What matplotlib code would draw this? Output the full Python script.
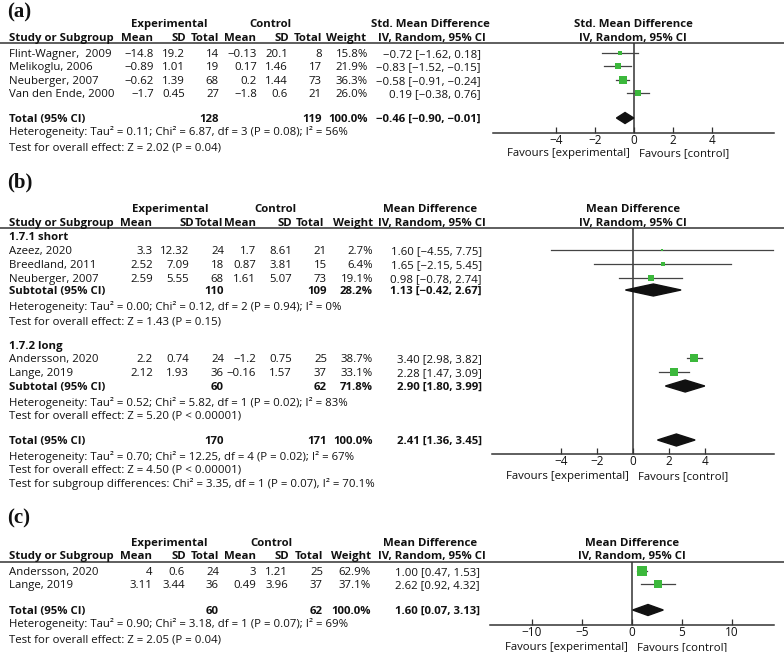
import matplotlib
matplotlib.use("Agg")
import matplotlib.pyplot as plt
from matplotlib.patches import Polygon
import math

W, H = 784, 652
plt.rcParams['font.family'] = ['Open Sans', 'DejaVu Sans']
FS = 8.2
GREEN = "#3cb83c"
LINE = "#333333"

# ---------------- data: panel (a) ----------------
a_studies = ["Flint-Wagner,  2009", "Melikoglu, 2006", "Neuberger, 2007", "Van den Ende, 2000"]
a_exp_mean = [-14.8, -0.89, -0.62, -1.7]
a_exp_sd = [19.2, 1.01, 1.39, 0.45]
a_exp_n = [14, 19, 68, 27]
a_ctl_mean = [-0.13, 0.17, 0.2, -1.8]
a_ctl_sd = [20.1, 1.46, 1.44, 0.6]
a_ctl_n = [8, 17, 73, 21]
a_weight = [15.8, 21.9, 36.3, 26.0]
a_est = [-0.72, -0.83, -0.58, 0.19]
a_lo = [-1.62, -1.52, -0.91, -0.38]
a_hi = [0.18, -0.15, -0.24, 0.76]
a_total = [128, 119, 100.0, -0.46, -0.90, -0.01]
a_notes = ["Heterogeneity: Tau² = 0.11; Chi² = 6.87, df = 3 (P = 0.08); I² = 56%",
           "Test for overall effect: Z = 2.02 (P = 0.04)"]
a_ticks = [-4, -2, 0, 2, 4]

# ---------------- data: panel (b) ----------------
b1_name = "1.7.1 short"
b1_studies = ["Azeez, 2020", "Breedland, 2011", "Neuberger, 2007"]
b1_exp_mean = [3.3, 2.52, 2.59]
b1_exp_sd = [12.32, 7.09, 5.55]
b1_exp_n = [24, 18, 68]
b1_ctl_mean = [1.7, 0.87, 1.61]
b1_ctl_sd = [8.61, 3.81, 5.07]
b1_ctl_n = [21, 15, 73]
b1_weight = [2.7, 6.4, 19.1]
b1_est = [1.60, 1.65, 0.98]
b1_lo = [-4.55, -2.15, -0.78]
b1_hi = [7.75, 5.45, 2.74]
b1_sub = [110, 109, 28.2, 1.13, -0.42, 2.67]
b1_notes = ["Heterogeneity: Tau² = 0.00; Chi² = 0.12, df = 2 (P = 0.94); I² = 0%",
            "Test for overall effect: Z = 1.43 (P = 0.15)"]

b2_name = "1.7.2 long"
b2_studies = ["Andersson, 2020", "Lange, 2019"]
b2_exp_mean = [2.2, 2.12]
b2_exp_sd = [0.74, 1.93]
b2_exp_n = [24, 36]
b2_ctl_mean = [-1.2, -0.16]
b2_ctl_sd = [0.75, 1.57]
b2_ctl_n = [25, 37]
b2_weight = [38.7, 33.1]
b2_est = [3.40, 2.28]
b2_lo = [2.98, 1.47]
b2_hi = [3.82, 3.09]
b2_sub = [60, 62, 71.8, 2.90, 1.80, 3.99]
b2_notes = ["Heterogeneity: Tau² = 0.52; Chi² = 5.82, df = 1 (P = 0.02); I² = 83%",
            "Test for overall effect: Z = 5.20 (P < 0.00001)"]
b_total = [170, 171, 100.0, 2.41, 1.36, 3.45]
b_notes = ["Heterogeneity: Tau² = 0.70; Chi² = 12.25, df = 4 (P = 0.02); I² = 67%",
           "Test for overall effect: Z = 4.50 (P < 0.00001)",
           "Test for subgroup differences: Chi² = 3.35, df = 1 (P = 0.07), I² = 70.1%"]
b_ticks = [-4, -2, 0, 2, 4]

# ---------------- data: panel (c) ----------------
c_studies = ["Andersson, 2020", "Lange, 2019"]
c_exp_mean = [4, 3.11]
c_exp_sd = [0.6, 3.44]
c_exp_n = [24, 36]
c_ctl_mean = [3, 0.49]
c_ctl_sd = [1.21, 3.96]
c_ctl_n = [25, 37]
c_weight = [62.9, 37.1]
c_est = [1.00, 2.62]
c_lo = [0.47, 0.92]
c_hi = [1.53, 4.32]
c_total = [60, 62, 100.0, 1.60, 0.07, 3.13]
c_notes = ["Heterogeneity: Tau² = 0.90; Chi² = 3.18, df = 1 (P = 0.07); I² = 69%",
           "Test for overall effect: Z = 2.05 (P = 0.04)"]
c_ticks = [-10, -5, 0, 5, 10]

col_labels = ["Mean", "SD", "Total", "Mean", "SD", "Total", "Weight"]

# ---------------- figure ----------------
fig = plt.figure(figsize=(W / 100, H / 100), dpi=100)
ax0 = fig.add_axes([0, 0, 1, 1])
ax0.set_xlim(0, W)
ax0.set_ylim(H, 0)
ax0.axis('off')

BASE = 4.0  # baseline offset below the visual row centre (px)


def T(x, y, s, ha='left', bold=False, size=FS, **kw):
    ax0.text(x, y + BASE, s, ha=ha, va='baseline', fontsize=size,
             fontweight='bold' if bold else 'normal', color='#111111', **kw)


def fmt(v):
    return f"{v:g}".replace("-", "\u2212")


def fmt2(v):
    return f"{v:.2f}".replace("-", "\u2212")


def ci(e, lo, hi):
    return f"{fmt2(e)} [{fmt2(lo)}, {fmt2(hi)}]"


def header(label, ylab, y1, y2, yline, hdr_x, exp_c, ctl_c, method, fc):
    ax0.text(7, ylab, label, ha='left', va='center', fontsize=15, fontweight='bold',
             family='Liberation Serif', color='#111111')
    T(exp_c, y1, "Experimental", 'center', True)
    T(ctl_c, y1, "Control", 'center', True)
    T(9, y2, "Study or Subgroup", bold=True)
    for lab, x in zip(col_labels, hdr_x):
        T(x, y2, lab, 'right', True)
    T(430, y1, method, 'center', True)
    T(432, y2, "IV, Random, 95% CI", 'center', True)
    T(fc, y1, method, 'center', True)
    T(fc, y2, "IV, Random, 95% CI", 'center', True)
    ax0.plot([0, W], [yline, yline], color=LINE, lw=1.1)


def study_rows(ys, cols, names, em, es, en, cm, cs, cn, w, e, lo, hi):
    for i, y in enumerate(ys):
        T(9, y, names[i])
        vals = [fmt(em[i]), fmt(es[i]), str(en[i]), fmt(cm[i]), fmt(cs[i]), str(cn[i]),
                f"{w[i]:.1f}%", ci(e[i], lo[i], hi[i])]
        for v, x in zip(vals, cols):
            T(x, y, v, 'right')


def total_row(y, cols, label, tot):
    T(9, y, label, bold=True)
    T(cols[2], y, str(tot[0]), 'right', True)
    T(cols[5], y, str(tot[1]), 'right', True)
    T(cols[6], y, f"{tot[2]:.1f}%", 'right', True)
    T(cols[7], y, ci(tot[3], tot[4], tot[5]), 'right', True)


def forest(x0, x1, xzero, unit, ytop, ybot, ticks, yfav):
    vmin = (x0 - xzero) / unit
    vmax = (x1 - xzero) / unit
    ax = fig.add_axes([x0 / W, 1 - ybot / H, (x1 - x0) / W, (ybot - ytop) / H])
    ax.set_xlim(vmin, vmax)
    ax.set_ylim(ybot, ytop)
    ax.patch.set_alpha(0)
    for s in ['top', 'left', 'right']:
        ax.spines[s].set_visible(False)
    ax.spines['bottom'].set_color(LINE)
    ax.spines['bottom'].set_linewidth(1.1)
    ax.set_yticks([])
    ax.set_xticks(ticks)
    ax.tick_params(axis='x', direction='in', length=4, width=0.9, colors=LINE,
                   labelsize=FS + 0.3, labelcolor='#111111', pad=0.5)
    ax.axvline(0, color=LINE, lw=1.1)
    T(xzero - 4, yfav, "Favours [experimental]", 'right')
    T(xzero + 5, yfav, "Favours [control]", 'left')
    return ax


def squares(ax, ys, w, e, lo, hi):
    for i, y in enumerate(ys):
        ax.plot([lo[i], hi[i]], [y, y], color='#444444', lw=0.9, clip_on=False, zorder=2)
        ax.plot(e[i], y, marker='s', ms=0.9 * math.sqrt(w[i]), color=GREEN, mec=GREEN,
                mew=0, clip_on=False, zorder=3)


def diamond(ax, y, tot, h=5.5):
    e, lo, hi = tot[3], tot[4], tot[5]
    ax.add_patch(Polygon([(lo, y), (e, y - h), (hi, y), (e, y + h)], closed=True,
                         color='#111111', clip_on=False, zorder=3))


# ---------------- panel (a) ----------------
a_cols = [154, 185, 219, 257, 288, 322, 368, 481]
a_hdr = [153, 186, 219, 256, 289, 322, 366]
header("(a)", 12, 23, 37, 43, a_hdr, 169, 270, "Std. Mean Difference", 633)
a_y = [53, 66, 80, 93]
study_rows(a_y, a_cols, a_studies, a_exp_mean, a_exp_sd, a_exp_n, a_ctl_mean, a_ctl_sd,
           a_ctl_n, a_weight, a_est, a_lo, a_hi)
total_row(118, a_cols, "Total (95% CI)", a_total)
T(9, 131, a_notes[0])
T(9, 146, a_notes[1])
axa = forest(493, 774, 634, 19.5, 43, 133, a_ticks, 152)
squares(axa, a_y, a_weight, a_est, a_lo, a_hi)
diamond(axa, 118, a_total)

# ---------------- panel (b) ----------------
b_cols = [153, 189, 224, 256, 292, 327, 373, 482]
b_hdr = [152, 194, 223, 256, 292, 324, 373]
header("(b)", 182, 208, 222, 228, b_hdr, 170, 275, "Mean Difference", 633)
T(9, 236, b1_name, bold=True)
b1_y = [250, 264, 278]
study_rows(b1_y, b_cols, b1_studies, b1_exp_mean, b1_exp_sd, b1_exp_n, b1_ctl_mean,
           b1_ctl_sd, b1_ctl_n, b1_weight, b1_est, b1_lo, b1_hi)
total_row(290, b_cols, "Subtotal (95% CI)", b1_sub)
T(9, 306, b1_notes[0])
T(9, 320, b1_notes[1])
T(9, 345, b2_name, bold=True)
b2_y = [358, 372]
study_rows(b2_y, b_cols, b2_studies, b2_exp_mean, b2_exp_sd, b2_exp_n, b2_ctl_mean,
           b2_ctl_sd, b2_ctl_n, b2_weight, b2_est, b2_lo, b2_hi)
total_row(386, b_cols, "Subtotal (95% CI)", b2_sub)
T(9, 402, b2_notes[0])
T(9, 414, b2_notes[1])
total_row(440, b_cols, "Total (95% CI)", b_total)
T(9, 456, b_notes[0])
T(9, 469, b_notes[1])
T(9, 483, b_notes[2])
axb = forest(492, 774, 633, 18.0, 228, 454, b_ticks, 475)
squares(axb, b1_y, b1_weight, b1_est, b1_lo, b1_hi)
squares(axb, b2_y, b2_weight, b2_est, b2_lo, b2_hi)
diamond(axb, 290, b1_sub, 6)
diamond(axb, 386, b2_sub, 6)
diamond(axb, 440, b_total, 6)

# ---------------- panel (c) ----------------
c_cols = [152, 185, 219, 256, 288, 323, 371, 480]
c_hdr = [152, 186, 219, 256, 289, 323, 371]
header("(c)", 518, 542, 555, 562, c_hdr, 169, 271, "Mean Difference", 632)
c_y = [571, 584]
study_rows(c_y, c_cols, c_studies, c_exp_mean, c_exp_sd, c_exp_n, c_ctl_mean, c_ctl_sd,
           c_ctl_n, c_weight, c_est, c_lo, c_hi)
total_row(610, c_cols, "Total (95% CI)", c_total)
T(9, 623, c_notes[0])
T(9, 638, c_notes[1])
axc = forest(490, 774, 632, 10.0, 562, 625, c_ticks, 646)
squares(axc, c_y, c_weight, c_est, c_lo, c_hi)
diamond(axc, 610, c_total, 5.5)

fig.savefig("out.png", dpi=100)
